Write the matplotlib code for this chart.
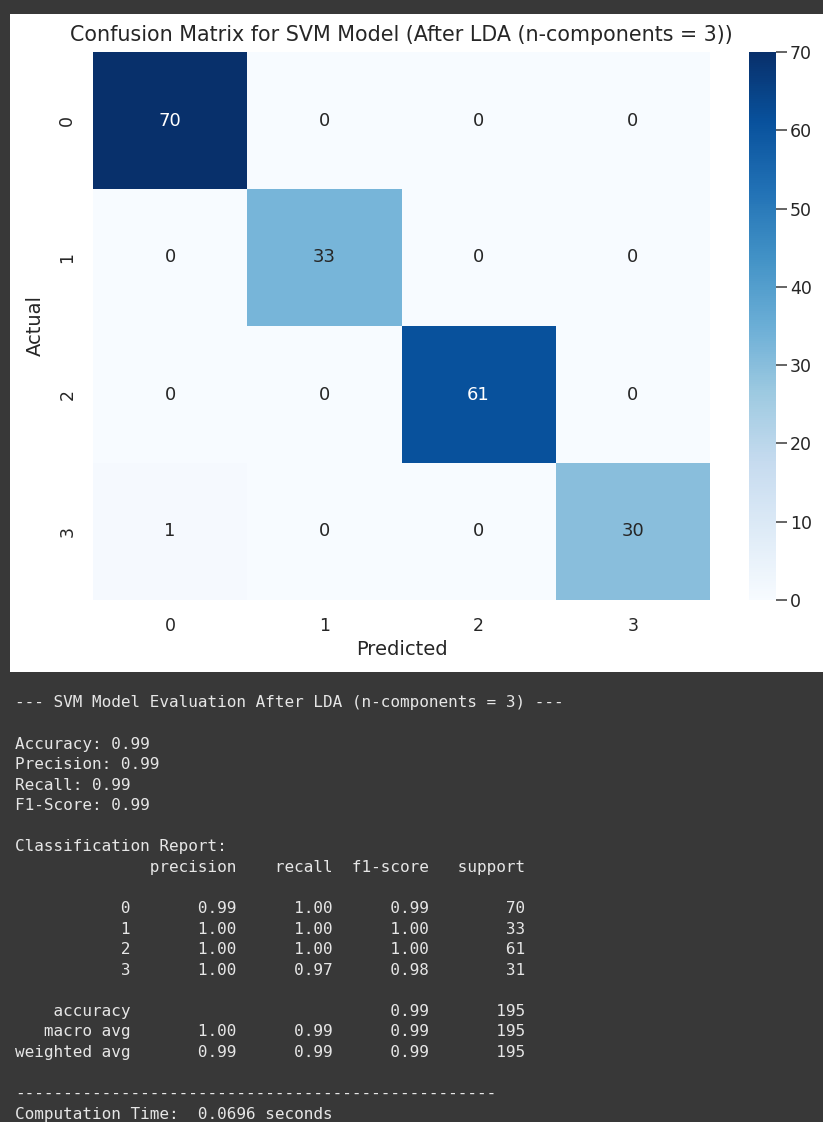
import numpy as np
import pandas as pd
import seaborn as sns
import matplotlib
matplotlib.use('Agg')
import matplotlib.pyplot as plt
from matplotlib.patches import Rectangle

# datos de la matriz de confusion
clases = ['0', '1', '2', '3']
fila_0 = [70, 0, 0, 0]
fila_1 = [0, 33, 0, 0]
fila_2 = [0, 0, 61, 0]
fila_3 = [1, 0, 0, 30]

# informe de clasificacion
precision = ['0.99', '1.00', '1.00', '1.00']
recall = ['1.00', '1.00', '1.00', '0.97']
f1 = ['0.99', '1.00', '1.00', '0.98']
support = [70, 33, 61, 31]
metricas = [('Accuracy', 0.99), ('Precision', 0.99), ('Recall', 0.99), ('F1-Score', 0.99)]
tiempo = 0.0696

cm = pd.DataFrame([fila_0, fila_1, fila_2, fila_3], index=clases, columns=clases)

sns.set_theme()
gris = '#262626'
fondo = '#383838'

fig = plt.figure(figsize=(8.23, 11.22), dpi=100, facecolor=fondo)
W, H = 823, 1122

# panel blanco donde va la imagen de la grafica
fig.patches.append(Rectangle((10 / W, 1 - 672 / H), 1 - 10 / W, (672 - 14) / H,
                             transform=fig.transFigure, facecolor='white',
                             edgecolor='none', zorder=-5))

ax = fig.add_axes([93 / W, 1 - 600 / H, (710 - 93) / W, (600 - 52) / H])
cax = fig.add_axes([749 / W, 1 - 600 / H, 27 / W, (600 - 52) / H])

sns.heatmap(cm, annot=True, fmt='d', cmap='Blues', ax=ax, cbar_ax=cax,
            annot_kws={'size': 13})
ax.set_title('Confusion Matrix for SVM Model (After LDA (n-components = 3))',
             fontsize=14.9, color=gris, pad=8)
ax.set_xlabel('Predicted', fontsize=14, color=gris)
ax.set_ylabel('Actual', fontsize=14, color=gris, labelpad=10)
ax.tick_params(axis='both', length=0, labelsize=12.5, colors=gris, pad=12)
ax.tick_params(axis='y', labelrotation=90)
cax.set_yticks(range(0, 71, 10))
cax.yaxis.set_ticks_position('right')
cax.tick_params(axis='y', which='major', right=True, left=False, length=8,
                width=1.1, color='#3a3a3a', labelcolor=gris, labelsize=12.5, pad=2)

# texto de salida del notebook (formato de classification_report)
cab = '{:>12s} ' + ' {:>9}' * 4
fil = '{:>12s} ' + ' {:>9}' * 4
lineas = ['--- SVM Model Evaluation After LDA (n-components = 3) ---', '']
for nombre, valor in metricas:
    lineas.append('{}: {:.2f}'.format(nombre, valor))
lineas += ['', 'Classification Report:',
           cab.format('', 'precision', 'recall', 'f1-score', 'support'), '']
for c, p, r, f, s in zip(clases, precision, recall, f1, support):
    lineas.append(fil.format(c, p, r, f, s))
lineas.append('')
lineas.append(fil.format('accuracy', '', '', '0.99', 195))
lineas.append(fil.format('macro avg', '1.00', '0.99', '0.99', 195))
lineas.append(fil.format('weighted avg', '0.99', '0.99', '0.99', 195))
lineas += ['', '-' * 50, 'Computation Time:  {:.4f} seconds'.format(tiempo)]

y0 = 703
paso = 20.55
for i, linea in enumerate(lineas):
    fig.text(15 / W, 1 - (y0 + i * paso) / H, linea, family='DejaVu Sans Mono',
             fontsize=11.5, color='#e6e6e6', va='center', ha='left')

fig.savefig('out.png', dpi=100, facecolor=fondo)
